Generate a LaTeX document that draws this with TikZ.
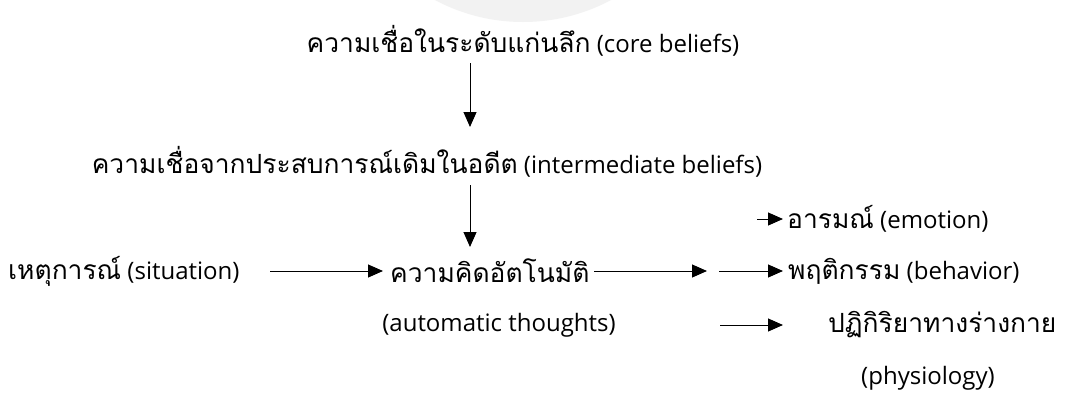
\documentclass[tikz,border=0pt]{standalone}
\usepackage{fontspec}
\setmainfont{Open Sans}
\newfontfamily\thai[Script=Thai,Scale=1.1]{Loma}
\usetikzlibrary{arrows.meta}
\tikzset{
  lbl/.style={inner sep=0pt, font=\fontsize{24}{28}\selectfont, text=black},
  arr/.style={line width=1pt, -{Triangle[length=15pt,width=13pt]}},
}
\begin{document}
\begin{tikzpicture}[x=1pt,y=-1pt]
\useasboundingbox[fill=white] (0,0) rectangle (1066,415);
\fill[black!5] (523,-165) circle (187);
% texts
\node[lbl] (core) at (523,41) {{\thai ความเชื่อในระดับแก่นลึก} (core beliefs)};
\node[lbl] (inter) at (427,162) {{\thai ความเชื่อจากประสบการณ์เดิมในอดีต} (intermediate beliefs)};
\node[lbl,anchor=west] (sit) at (8,271) {{\thai เหตุการณ์} (situation)};
\node[lbl,anchor=west] (thought) at (390,271) {\thai ความคิดอัตโนมัติ};
\node[lbl] (auto) at (499,325) {(automatic thoughts)};
\node[lbl,anchor=west] (emo) at (787,219) {{\thai อารมณ์} (emotion)};
\node[lbl,anchor=west] (beh) at (788,271) {{\thai พฤติกรรม} (behavior)};
\node[lbl,anchor=west] (phys) at (828,325) {\thai ปฏิกิริยาทางร่างกาย};
\node[lbl] (physen) at (928,378) {(physiology)};
% connector points
\coordinate (a1s) at (470,63);
\coordinate (a1e) at (470,127);
\coordinate (a2s) at (470,185);
\coordinate (a2e) at (470,247);
\coordinate (sitE) at (270,271);
\coordinate (thE) at (383,271);
\coordinate (t2s) at (594,271);
\coordinate (t2e) at (707,271);
\coordinate (bs) at (719,271);
\coordinate (be) at (783,271);
\coordinate (es) at (757,219);
\coordinate (ee) at (783,219);
\coordinate (ps) at (720,325);
\coordinate (pe) at (783,325);
% arrows
\draw[arr] (a1s) -- (a1e);
\draw[arr] (a2s) -- (a2e);
\draw[arr] (sitE) -- (thE);
\draw[arr] (t2s) -- (t2e);
\draw[arr] (bs) -- (be);
\draw[arr] (es) -- (ee);
\draw[arr] (ps) -- (pe);
\end{tikzpicture}
\end{document}
